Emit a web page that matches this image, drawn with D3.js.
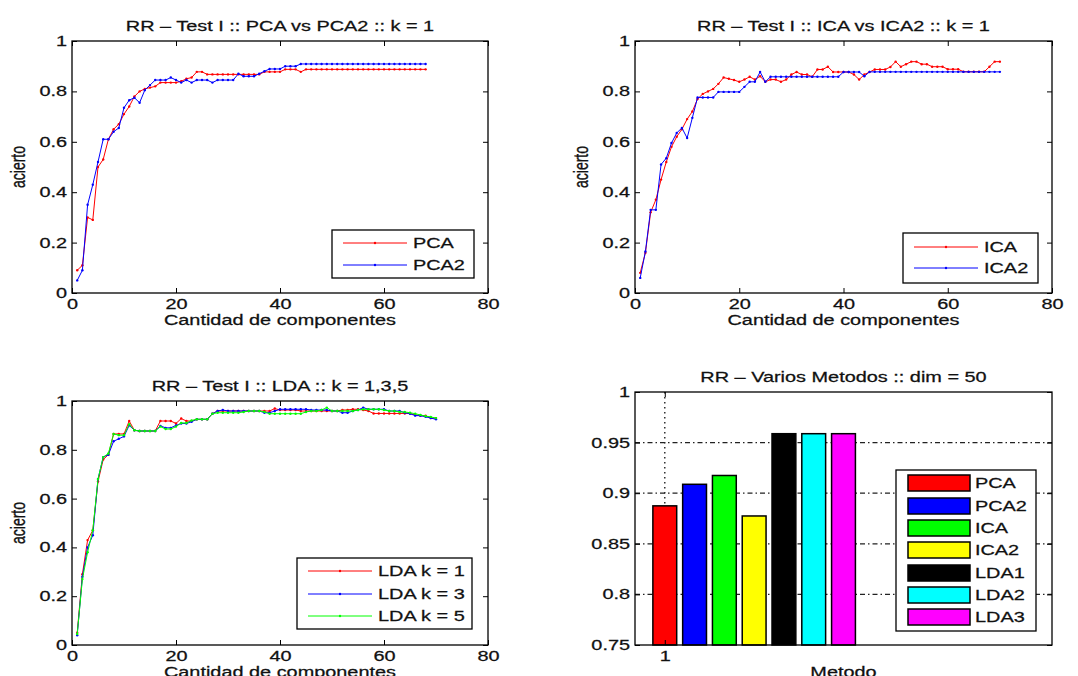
<!DOCTYPE html>
<html>
<head>
<meta charset="utf-8">
<title>RR - Test I</title>
<script src="https://cdn.jsdelivr.net/npm/d3@7"></script>
<style>
  body { margin: 0; background: #fff; }
  text { font-family: "Liberation Sans", Arial, sans-serif; fill: #111; stroke: #111; stroke-width: 0.25px; }
</style>
</head>
<body>
<script>

// accuracy per number of components (x = 1..N)
var pca = [0.09, 0.11, 0.30, 0.29, 0.50, 0.53, 0.61, 0.65, 0.67, 0.71,
  0.74, 0.78, 0.80, 0.81, 0.815, 0.82, 0.835, 0.835, 0.835, 0.835,
  0.84, 0.85, 0.855, 0.8775, 0.8775, 0.8675, 0.8675, 0.8675, 0.8675, 0.8675,
  0.8675, 0.8675, 0.8675, 0.8675, 0.8675, 0.8675, 0.8775, 0.8775, 0.8775, 0.8775,
  0.8875, 0.8875, 0.8875, 0.8775, 0.8875, 0.8875, 0.8875, 0.8875, 0.8875, 0.8875,
  0.8875, 0.8875, 0.8875, 0.8875, 0.8875, 0.8875, 0.8875, 0.8875, 0.8875, 0.8875,
  0.8875, 0.8875, 0.8875, 0.8875, 0.8875, 0.8875, 0.8875, 0.8875];

var pca2 = [0.05, 0.09, 0.35, 0.43, 0.52, 0.61, 0.61, 0.64, 0.655, 0.735,
  0.765, 0.775, 0.755, 0.805, 0.825, 0.845, 0.845, 0.845, 0.855, 0.845,
  0.835, 0.845, 0.835, 0.845, 0.845, 0.845, 0.835, 0.845, 0.845, 0.845,
  0.845, 0.87, 0.86, 0.86, 0.86, 0.87, 0.88, 0.889, 0.889, 0.889,
  0.90, 0.90, 0.90, 0.9088, 0.9088, 0.9088, 0.9088, 0.9088, 0.9088, 0.9088,
  0.9088, 0.9088, 0.9088, 0.9088, 0.9088, 0.9088, 0.9088, 0.9088, 0.9088, 0.9088,
  0.9088, 0.9088, 0.9088, 0.9088, 0.9088, 0.9088, 0.9088, 0.9088];

var ica = [0.08, 0.16, 0.32, 0.37, 0.45, 0.52, 0.58, 0.62, 0.65, 0.69,
  0.72, 0.77, 0.79, 0.80, 0.81, 0.83, 0.855, 0.85, 0.845, 0.838,
  0.847, 0.858, 0.847, 0.86, 0.838, 0.847, 0.847, 0.838, 0.847, 0.867,
  0.877, 0.867, 0.867, 0.858, 0.887, 0.887, 0.898, 0.877, 0.877, 0.877,
  0.877, 0.867, 0.847, 0.867, 0.877, 0.887, 0.887, 0.887, 0.897, 0.918,
  0.898, 0.908, 0.918, 0.918, 0.908, 0.908, 0.898, 0.898, 0.898, 0.888,
  0.888, 0.888, 0.878, 0.878, 0.878, 0.878, 0.878, 0.898, 0.918, 0.918];

var ica2 = [0.06, 0.165, 0.33, 0.33, 0.51, 0.535, 0.595, 0.635, 0.655, 0.615,
  0.695, 0.776, 0.776, 0.776, 0.776, 0.798, 0.798, 0.798, 0.798, 0.798,
  0.818, 0.838, 0.838, 0.877, 0.838, 0.858, 0.858, 0.858, 0.858, 0.858,
  0.858, 0.858, 0.858, 0.858, 0.858, 0.858, 0.858, 0.858, 0.858, 0.877,
  0.877, 0.877, 0.877, 0.86, 0.8775, 0.8775, 0.8775, 0.8775, 0.8775, 0.8775,
  0.8775, 0.8775, 0.8775, 0.8775, 0.8775, 0.8775, 0.8775, 0.8775, 0.8775, 0.8775,
  0.8775, 0.8775, 0.8775, 0.8775, 0.8775, 0.8775, 0.8775, 0.8775, 0.8775, 0.8775];

var ldaK1 = [0.05, 0.29, 0.43, 0.47, 0.67, 0.76, 0.78, 0.865, 0.865, 0.865,
  0.918, 0.88, 0.877, 0.877, 0.877, 0.877, 0.918, 0.918, 0.918, 0.908,
  0.928, 0.918, 0.918, 0.925, 0.925, 0.925, 0.948, 0.959, 0.959, 0.959,
  0.959, 0.959, 0.959, 0.959, 0.959, 0.959, 0.959, 0.959, 0.969, 0.963,
  0.963, 0.963, 0.963, 0.959, 0.959, 0.959, 0.959, 0.959, 0.959, 0.959,
  0.959, 0.963, 0.963, 0.966, 0.966, 0.963, 0.959, 0.949, 0.949, 0.949,
  0.949, 0.949, 0.949, 0.949, 0.949, 0.943, 0.94, 0.94, 0.93, 0.93];

var ldaK3 = [0.04, 0.28, 0.40, 0.45, 0.68, 0.77, 0.78, 0.835, 0.845, 0.855,
  0.90, 0.88, 0.877, 0.877, 0.877, 0.877, 0.898, 0.89, 0.89, 0.90,
  0.908, 0.908, 0.915, 0.925, 0.925, 0.925, 0.948, 0.959, 0.963, 0.959,
  0.959, 0.959, 0.959, 0.959, 0.959, 0.959, 0.952, 0.952, 0.959, 0.966,
  0.966, 0.966, 0.966, 0.966, 0.966, 0.963, 0.963, 0.963, 0.963, 0.959,
  0.959, 0.952, 0.952, 0.959, 0.963, 0.973, 0.966, 0.966, 0.966, 0.966,
  0.959, 0.959, 0.959, 0.952, 0.948, 0.94, 0.94, 0.935, 0.93, 0.925];

var ldaK5 = [0.045, 0.27, 0.38, 0.47, 0.68, 0.77, 0.785, 0.865, 0.86, 0.86,
  0.905, 0.88, 0.877, 0.877, 0.877, 0.877, 0.895, 0.885, 0.885, 0.895,
  0.91, 0.91, 0.92, 0.925, 0.925, 0.925, 0.948, 0.952, 0.952, 0.952,
  0.952, 0.952, 0.955, 0.959, 0.959, 0.959, 0.955, 0.948, 0.948, 0.948,
  0.948, 0.948, 0.948, 0.948, 0.955, 0.959, 0.959, 0.963, 0.973, 0.959,
  0.959, 0.959, 0.959, 0.959, 0.963, 0.966, 0.966, 0.966, 0.966, 0.963,
  0.959, 0.959, 0.955, 0.955, 0.952, 0.948, 0.943, 0.938, 0.935, 0.93];

// bar chart, dim = 50
var methods = ["PCA", "PCA2", "ICA", "ICA2", "LDA1", "LDA2", "LDA3"];
var methodScores = [0.8875, 0.9088, 0.9175, 0.8775, 0.9588, 0.9588, 0.9588];

var xTicks = [0, 20, 40, 60, 80];
var yTicks = [0, 0.2, 0.4, 0.6, 0.8, 1];
var barYTicks = [0.75, 0.8, 0.85, 0.9, 0.95, 1];
var barXTicks = [1];

var SX = 1.42;   // the original figure is stretched sideways, text too

var svg = d3.select("body").append("svg")
  .attr("width", 1078)
  .attr("height", 676);

function stretch(sel) {
  sel.each(function() {
    var t = d3.select(this);
    var x = +t.attr("x") || 0, y = +t.attr("y") || 0;
    t.attr("transform", "translate(" + x + "," + y + ") scale(" + SX + ",1) translate(" + (-x) + "," + (-y) + ")");
  });
}

function addText(parent, x, y, str, anchor) {
  return parent.append("text")
    .attr("x", x).attr("y", y)
    .attr("text-anchor", anchor || "start")
    .attr("font-size", 14)
    .text(str)
    .call(stretch);
}

function fmt(d) { return String(+d.toFixed(2)); }

function drawAxes(g, x, y, box, xt, yt) {
  function clean(a) {
    a.attr("font-size", 14).attr("font-family", null);
    a.select(".domain").remove();
    a.selectAll(".tick text").call(stretch);
  }
  g.append("g").attr("transform", "translate(0," + box.b + ")")
    .call(d3.axisBottom(x).tickValues(xt).tickSize(-5).tickSizeOuter(0).tickPadding(6).tickFormat(fmt))
    .call(clean);
  g.append("g").attr("transform", "translate(0," + box.t + ")")
    .call(d3.axisTop(x).tickValues(xt).tickSize(-5).tickSizeOuter(0).tickFormat(""))
    .call(clean);
  g.append("g").attr("transform", "translate(" + box.l + ",0)")
    .call(d3.axisLeft(y).tickValues(yt).tickSize(-5).tickSizeOuter(0).tickPadding(5).tickFormat(fmt))
    .call(clean);
  g.append("g").attr("transform", "translate(" + box.r + ",0)")
    .call(d3.axisRight(y).tickValues(yt).tickSize(-5).tickSizeOuter(0).tickFormat(""))
    .call(clean);
  g.append("rect")
    .attr("x", box.l).attr("y", box.t)
    .attr("width", box.r - box.l).attr("height", box.b - box.t)
    .attr("fill", "none").attr("stroke", "#000").attr("stroke-width", 1.3);
}

function yLabel(g, x, y, str) {
  g.append("text")
    .attr("text-anchor", "middle")
    .attr("font-size", 14)
    .attr("transform", "translate(" + x + "," + y + ") scale(" + SX + ",1) rotate(-90)")
    .text(str);
}

function linePanel(p) {
  var box = p.box;
  var x = d3.scaleLinear().domain([0, 80]).range([box.l, box.r]);
  var y = d3.scaleLinear().domain([0, 1]).range([box.b, box.t]);
  var g = svg.append("g");
  var line = d3.line().x(d => x(d[0])).y(d => y(d[1]));

  p.series.forEach(function(s) {
    var pts = s.values.map((v, i) => [i + 1, v]);
    g.append("path").datum(pts)
      .attr("d", line)
      .attr("fill", "none")
      .attr("stroke", s.color)
      .attr("stroke-width", 1);
    g.selectAll(null).data(pts).enter().append("circle")
      .attr("cx", d => x(d[0])).attr("cy", d => y(d[1]))
      .attr("r", 1.2)
      .attr("fill", s.color);
  });

  drawAxes(g, x, y, box, xTicks, yTicks);

  addText(g, (box.l + box.r) / 2, p.titleY, p.title, "middle");
  addText(g, (box.l + box.r) / 2, box.b + 32, "Cantidad de componentes", "middle");
  yLabel(g, p.ylabX, (box.t + box.b) / 2, "acierto");

  // legend
  var lg = p.legend;
  g.append("rect")
    .attr("x", lg.x).attr("y", lg.y)
    .attr("width", lg.w).attr("height", lg.h)
    .attr("fill", "#fff").attr("stroke", "#000").attr("stroke-width", 1.3);
  p.series.forEach(function(s, i) {
    var ry = lg.rows[i];
    g.append("line")
      .attr("x1", lg.x + 11).attr("x2", lg.x + 75)
      .attr("y1", ry).attr("y2", ry)
      .attr("stroke", s.color).attr("stroke-width", 1);
    g.append("circle")
      .attr("cx", lg.x + 43).attr("cy", ry).attr("r", 1.2)
      .attr("fill", s.color);
    addText(g, lg.x + 81, ry, s.name).attr("dy", "0.36em");
  });
}

linePanel({
  box: {l: 72, r: 488, t: 41, b: 293},
  title: "RR \u2013 Test I :: PCA vs PCA2 :: k = 1",
  titleY: 31,
  ylabX: 25,
  series: [
    {name: "PCA", values: pca, color: "#ff0000"},
    {name: "PCA2", values: pca2, color: "#0000ff"}
  ],
  legend: {x: 332, y: 230, w: 142, h: 48, rows: [243, 265]}
});

linePanel({
  box: {l: 635, r: 1052, t: 41, b: 293},
  title: "RR \u2013 Test I :: ICA vs ICA2 :: k = 1",
  titleY: 31,
  ylabX: 588,
  series: [
    {name: "ICA", values: ica, color: "#ff0000"},
    {name: "ICA2", values: ica2, color: "#0000ff"}
  ],
  legend: {x: 903, y: 233, w: 135, h: 50, rows: [247, 268]}
});

linePanel({
  box: {l: 72, r: 488, t: 401, b: 645},
  title: "RR \u2013 Test I :: LDA :: k = 1,3,5",
  titleY: 391,
  ylabX: 25,
  series: [
    {name: "LDA k = 1", values: ldaK1, color: "#ff0000"},
    {name: "LDA k = 3", values: ldaK3, color: "#0000ff"},
    {name: "LDA k = 5", values: ldaK5, color: "#00ff00"}
  ],
  legend: {x: 297, y: 558, w: 175, h: 71, rows: [571, 594, 616]}
});

// bar panel
(function() {
  var box = {l: 635, r: 1052, t: 392, b: 645};
  var barColors = ["#ff0000", "#0000ff", "#00ff00", "#ffff00", "#000000", "#00ffff", "#ff00ff"];
  var x = d3.scaleLinear().domain([0, 14]).range([box.l, box.r]);
  var y = d3.scaleLinear().domain([0.75, 1]).range([box.b, box.t]);
  var g = svg.append("g");

  // grid
  g.selectAll(".hgrid").data(barYTicks.slice(1, -1)).enter().append("line")
    .attr("x1", box.l).attr("x2", box.r)
    .attr("y1", d => y(d)).attr("y2", d => y(d))
    .attr("stroke", "#222").attr("stroke-width", 1.2)
    .attr("stroke-dasharray", "5,3,1.5,3");
  g.selectAll(".vgrid").data(barXTicks).enter().append("line")
    .attr("x1", d => x(d)).attr("x2", d => x(d))
    .attr("y1", box.t).attr("y2", box.b)
    .attr("stroke", "#222").attr("stroke-width", 1.4)
    .attr("stroke-dasharray", "1.5,3.5");

  var bw = x(0.8) - x(0);
  g.selectAll(".bar").data(methodScores).enter().append("rect")
    .attr("x", (d, i) => x(i + 1) - bw / 2)
    .attr("y", d => y(d))
    .attr("width", bw)
    .attr("height", d => y(0.75) - y(d))
    .attr("fill", (d, i) => barColors[i])
    .attr("stroke", "#000").attr("stroke-width", 1.5);

  drawAxes(g, x, y, box, barXTicks, barYTicks);

  addText(g, (box.l + box.r) / 2, 382, "RR \u2013 Varios Metodos :: dim = 50", "middle");
  addText(g, (box.l + box.r) / 2, 677, "Metodo", "middle");

  // legend
  var lx = 896, ly = 470;
  var rows = [483, 506, 528, 550, 573, 595, 617];
  g.append("rect")
    .attr("x", lx).attr("y", ly).attr("width", 140).attr("height", 161)
    .attr("fill", "#fff").attr("stroke", "#000").attr("stroke-width", 1.3);
  methods.forEach(function(m, i) {
    g.append("rect")
      .attr("x", 908).attr("y", rows[i] - 8)
      .attr("width", 62).attr("height", 16)
      .attr("fill", barColors[i]).attr("stroke", "#000").attr("stroke-width", 1.5);
    addText(g, 975, rows[i], m).attr("dy", "0.36em");
  });
})();

</script>
</body>
</html>
